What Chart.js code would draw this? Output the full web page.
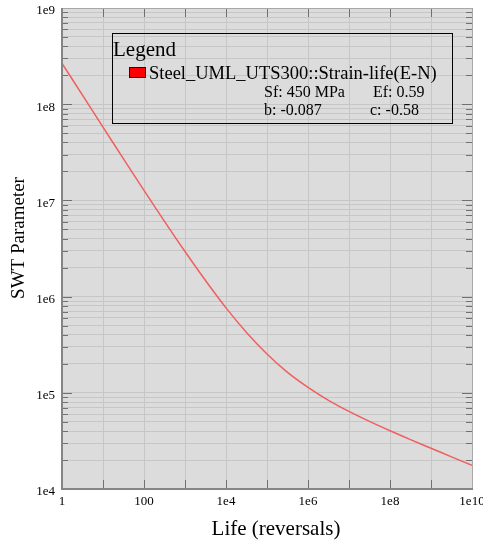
<!DOCTYPE html>
<html>
<head>
<meta charset="utf-8">
<script src="https://cdn.jsdelivr.net/npm/chart.js@4.4.1/dist/chart.umd.min.js"></script>
<style>
  body { margin: 0; background: #fff; }
</style>
</head>
<body>
<canvas id="swtChart" width="483" height="541"></canvas>
<script>
// life (reversals) and SWT parameter, every half decade
const life = [1, 3.162, 10, 31.62, 100, 316.2, 1e3, 3162, 1e4, 31620, 1e5, 316200, 1e6, 3.162e6, 1e7, 3.162e7, 1e8, 3.162e8, 1e9, 3.162e9, 1e10];
const swt = [2.66e8, 1.24e8, 5.78e7, 2.7e7, 1.27e7, 6.06e6, 2.94e6, 1.47e6, 7.64e5, 4.24e5, 2.53e5, 1.63e5, 1.14e5, 8.36e4, 6.41e4, 5.04e4, 4.03e4, 3.26e4, 2.65e4, 2.16e4, 1.76e4];

const xTicks = [1, 10, 100, 1e3, 1e4, 1e5, 1e6, 1e7, 1e8, 1e9, 1e10];
const xLabelled = [1, 100, 1e4, 1e6, 1e8, 1e10];
const xLabelText = ['1', '100', '1e4', '1e6', '1e8', '1e10'];
const yDecades = [1e4, 1e5, 1e6, 1e7, 1e8, 1e9];
const yLabelText = ['1e4', '1e5', '1e6', '1e7', '1e8', '1e9'];

const xTitle = 'Life (reversals)';
const yTitle = 'SWT Parameter';
const seriesName = 'Steel_UML_UTS300::Strain-life(E-N)';
const params = ['Sf: 450 MPa', 'Ef: 0.59', 'b: -0.087', 'c: -0.58'];

const serif = 'Liberation Serif';

// minor ticks 2..9 in each decade of the y axis
const yTicks = [];
yDecades.forEach((d, i) => {
  yTicks.push(d);
  if (i < yDecades.length - 1) {
    for (let m = 2; m <= 9; m++) yTicks.push(m * d);
  }
});

function isDecade(v) {
  const l = Math.log10(v);
  return Math.abs(l - Math.round(l)) < 1e-9;
}

const plotBg = {
  id: 'plotBg',
  beforeDraw(chart) {
    const { ctx, chartArea: a } = chart;
    ctx.save();
    ctx.fillStyle = '#dcdcdc';
    ctx.fillRect(a.left, a.top, a.right - a.left, a.bottom - a.top);
    ctx.restore();
  }
};

const frame = {
  id: 'frame',
  afterDraw(chart) {
    const { ctx, chartArea: a } = chart;
    const xs = chart.scales.x, ys = chart.scales.y;
    ctx.save();

    // tick marks pointing inwards
    ctx.strokeStyle = '#707070';
    ctx.lineWidth = 1;
    yTicks.forEach(v => {
      const y = Math.round(ys.getPixelForValue(v)) + 0.5;
      const len = isDecade(v) ? 10 : 6;
      ctx.beginPath();
      ctx.moveTo(a.left, y); ctx.lineTo(a.left + len, y);
      ctx.moveTo(a.right, y); ctx.lineTo(a.right - len, y);
      ctx.stroke();
    });
    xTicks.forEach(v => {
      const x = Math.round(xs.getPixelForValue(v)) + 0.5;
      ctx.beginPath();
      ctx.moveTo(x, a.bottom); ctx.lineTo(x, a.bottom - 9);
      ctx.moveTo(x, a.top); ctx.lineTo(x, a.top + 9);
      ctx.stroke();
    });

    // top/right border
    ctx.strokeStyle = '#a8a8a8';
    ctx.beginPath();
    ctx.moveTo(a.left, a.top + 0.5); ctx.lineTo(a.right + 0.5, a.top + 0.5);
    ctx.lineTo(a.right + 0.5, a.bottom);
    ctx.stroke();

    // left/bottom axis
    ctx.strokeStyle = '#858585';
    ctx.lineWidth = 2;
    ctx.beginPath();
    ctx.moveTo(a.left, a.top); ctx.lineTo(a.left, a.bottom);
    ctx.lineTo(a.right + 1, a.bottom);
    ctx.stroke();

    // axis titles
    ctx.fillStyle = '#000';
    ctx.textAlign = 'center';
    ctx.textBaseline = 'alphabetic';
    ctx.font = '21px "' + serif + '"';
    ctx.fillText(xTitle, 276, 535);
    ctx.save();
    ctx.translate(24, 238);
    ctx.rotate(-Math.PI / 2);
    ctx.font = '19px "' + serif + '"';
    ctx.fillText(yTitle, 0, 0);
    ctx.restore();

    // legend box
    ctx.strokeStyle = '#000';
    ctx.lineWidth = 1;
    ctx.strokeRect(112.5, 33.5, 340, 90);
    ctx.textAlign = 'left';
    ctx.font = '21px "' + serif + '"';
    ctx.fillText('Legend', 113, 56);
    ctx.fillStyle = '#ff0000';
    ctx.fillRect(129, 67, 17, 11);
    ctx.strokeStyle = '#400000';
    ctx.strokeRect(129.5, 67.5, 16, 10);
    ctx.fillStyle = '#000';
    ctx.font = '18.5px "' + serif + '"';
    ctx.fillText(seriesName, 149, 79);
    ctx.font = '16px "' + serif + '"';
    ctx.fillText(params[0], 264, 97);
    ctx.fillText(params[1], 373, 97);
    ctx.fillText(params[2], 264, 115);
    ctx.fillText(params[3], 370, 115);
    ctx.restore();
  }
};

const ctx = document.getElementById('swtChart');

new Chart(ctx, {
  type: 'scatter',
  data: {
    datasets: [{
      label: seriesName,
      data: life.map((n, i) => ({ x: n, y: swt[i] })),
      showLine: true,
      borderColor: 'rgb(240, 95, 95)',
      borderWidth: 1.5,
      pointRadius: 0,
      tension: 0.3,
      fill: false
    }]
  },
  options: {
    responsive: false,
    animation: false,
    devicePixelRatio: 1,
    layout: { padding: { top: 8, right: 11, left: 0, bottom: 0 } },
    plugins: { legend: { display: false }, tooltip: { enabled: false } },
    scales: {
      x: {
        type: 'logarithmic',
        min: 1,
        max: 1e10,
        afterBuildTicks: s => { s.ticks = xTicks.map(v => ({ value: v })); },
        afterFit: s => { s.height = 52; s.paddingLeft = 0; s.paddingRight = 0; },
        grid: { color: '#c6c6c6', drawTicks: false },
        border: { display: false },
        ticks: {
          autoSkip: false,
          maxRotation: 0,
          padding: 5,
          color: '#000',
          font: { family: serif, size: 13 },
          callback: v => {
            const i = xLabelled.indexOf(v);
            return i < 0 ? '' : xLabelText[i];
          }
        }
      },
      y: {
        type: 'logarithmic',
        min: 1e4,
        max: 1e9,
        afterBuildTicks: s => { s.ticks = yTicks.map(v => ({ value: v })); },
        afterFit: s => { s.width = 62; s.paddingTop = 0; s.paddingBottom = 0; },
        grid: { color: '#c6c6c6', drawTicks: false },
        border: { display: false },
        ticks: {
          autoSkip: false,
          padding: 7,
          labelOffset: 3,
          color: '#000',
          font: { family: serif, size: 13 },
          callback: v => {
            if (!isDecade(v)) return '';
            return yLabelText[yDecades.findIndex(d => Math.abs(Math.log10(d) - Math.log10(v)) < 1e-9)];
          }
        }
      }
    }
  },
  plugins: [plotBg, frame]
});
</script>
</body>
</html>
